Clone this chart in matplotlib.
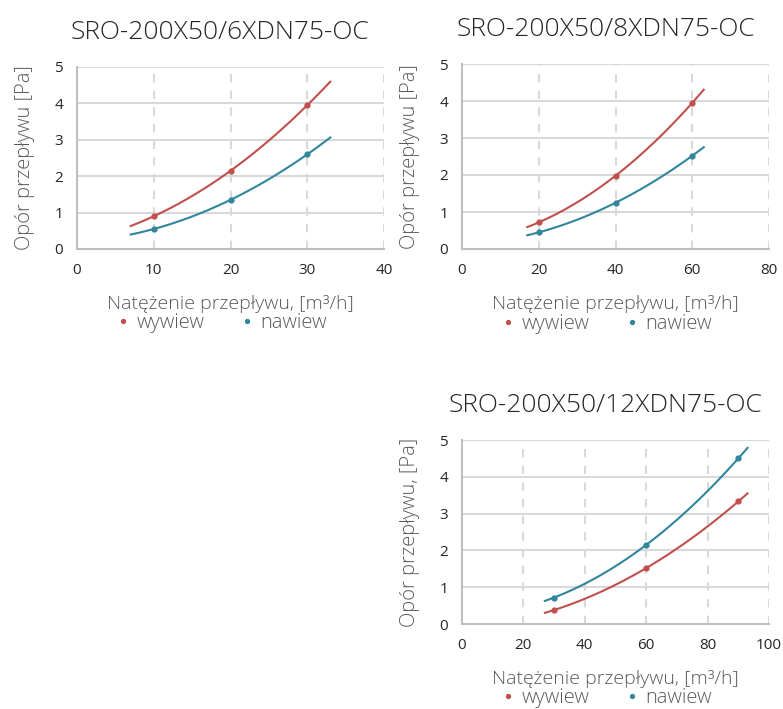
import numpy as np
from matplotlib import pyplot as plt

plt.rcParams['font.family'] = ['Open Sans', 'DejaVu Sans']

RED = '#c0504d'
TEAL = '#31859c'
GRID = '#d9d9d9'
LABEL = '#595959'

# chart 1: SRO-200X50/6XDN75-OC
flow_6 = [10, 20, 30]
wywiew_6 = [0.90, 2.15, 3.95]
nawiew_6 = [0.55, 1.35, 2.60]

# chart 2: SRO-200X50/8XDN75-OC
flow_8 = [20, 40, 60]
wywiew_8 = [0.72, 1.98, 3.95]
nawiew_8 = [0.45, 1.25, 2.52]

# chart 3: SRO-200X50/12XDN75-OC
flow_12 = [30, 60, 90]
wywiew_12 = [0.38, 1.52, 3.33]
nawiew_12 = [0.72, 2.15, 4.50]


def px(l, t, r, b):
    W, H = 783, 709
    return [l / W, (H - b) / H, (r - l) / W, (b - t) / H]


def trend(x, y, x0, x1):
    # 2nd order polynomial trendline through the measured points
    c = np.polyfit(x, y, 2)
    xs = np.linspace(x0, x1, 100)
    return xs, np.polyval(c, xs)


def draw(ax, title, flow, wyw, naw, xmax, xstep, rng, ylab):
    for y, c, name in [(wyw, RED, 'wywiew'), (naw, TEAL, 'nawiew')]:
        xs, ys = trend(flow, y, *rng)
        ax.plot(xs, ys, color=c, lw=1.5)
        ax.plot(flow, y, 'o', color=c, ms=3.5, label=name)
    ax.set_xlim(0, xmax)
    ax.set_ylim(0, 5)
    ax.set_xticks(np.arange(0, xmax + 1, xstep))
    ax.set_yticks(range(6))
    for v in np.arange(xstep, xmax + 1, xstep):
        ax.axvline(v, color=GRID, lw=1.5, ls=(0, (4, 4)), zorder=0)
    for v in range(1, 6):
        ax.axhline(v, color=GRID, lw=1.5, zorder=0)
    for s in ['top', 'right']:
        ax.spines[s].set_visible(False)
    for s in ['left', 'bottom']:
        ax.spines[s].set_color('#bfbfbf')
        ax.spines[s].set_linewidth(1.5)
    ax.tick_params(length=0, labelsize=11, colors='#262626', pad=10)
    t = ax.set_title(title, fontsize=19, color='#262626', pad=20, fontweight='light')
    t.set_x(0.5 - 10 / 307)
    ax.set_xlabel('Natężenie przepływu, [m³/h]', fontsize=14, color=LABEL, labelpad=12,
                  fontweight='light')
    ax.set_ylabel(ylab, fontsize=14.5, color=LABEL, labelpad=14, fontweight='light')
    ax.legend(loc='upper center', bbox_to_anchor=(0.475, -0.295), ncol=2, frameon=False,
              labelcolor=LABEL, handlelength=0.4, handletextpad=0.45,
              columnspacing=1.9, markerscale=0.8, borderpad=0,
              prop={'size': 14.5, 'weight': 'light'})


fig = plt.figure(figsize=(7.83, 7.09), dpi=100)

ax1 = fig.add_axes(px(77, 67, 384, 249))
draw(ax1, 'SRO-200X50/6XDN75-OC', flow_6, wywiew_6, nawiew_6, 40, 10, (7, 33),
     'Opór przepływu [Pa]')

ax2 = fig.add_axes(px(462, 64, 769, 249))
draw(ax2, 'SRO-200X50/8XDN75-OC', flow_8, wywiew_8, nawiew_8, 80, 20, (17, 63),
     'Opór przepływu [Pa]')

ax3 = fig.add_axes(px(462, 440, 769, 624))
draw(ax3, 'SRO-200X50/12XDN75-OC', flow_12, wywiew_12, nawiew_12, 100, 20, (27, 93),
     'Opór przepływu, [Pa]')

fig.savefig('out.png', dpi=100)
